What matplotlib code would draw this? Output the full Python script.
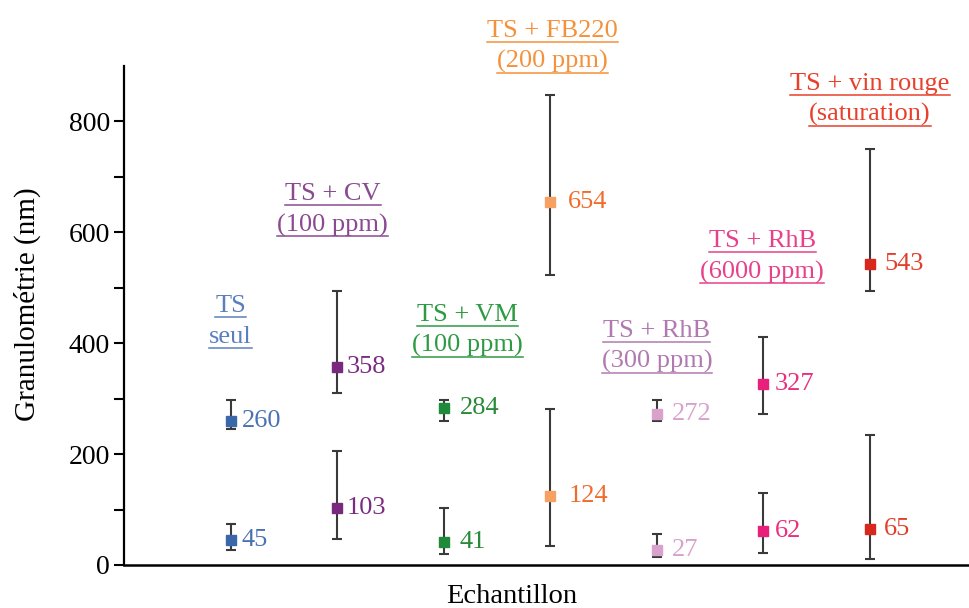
import matplotlib
matplotlib.use("Agg")
import matplotlib.pyplot as plt
import matplotlib.transforms as mtransforms
from matplotlib.lines import Line2D

plt.rcParams['font.family'] = ['Liberation Serif', 'DejaVu Serif']

# Data
samples = ["TS\nseul", "TS + CV\n(100 ppm)", "TS + VM\n(100 ppm)", "TS + FB220\n(200 ppm)",
           "TS + RhB\n(300 ppm)", "TS + RhB\n(6000 ppm)", "TS + vin rouge\n(saturation)"]
high_vals = [260, 358, 284, 654, 272, 327, 543]
high_lo = [246, 311, 259, 523, 259, 272, 494]
high_hi = [298, 494, 298, 847, 298, 412, 750]
low_vals = [45, 103, 41, 124, 27, 62, 65]
low_lo = [27, 47, 20, 34, 15, 22, 11]
low_hi = [74, 205, 102, 282, 56, 130, 235]

marker_colors = ["#3a66aa", "#7a2a7e", "#1f8a3a", "#f6a064", "#d8a2cc", "#e8207c", "#d8281e"]
value_colors = ["#4a72b2", "#7a2d80", "#2a8a3a", "#f06c2c", "#d8a2cc", "#e8307c", "#e0402a"]
title_colors = ["#5a80bc", "#8a4a90", "#2e9a44", "#f5913a", "#b07ab0", "#e8408a", "#e8402a"]
# style: label offsets (px) and title anchor positions
value_offsets_px = [11, 10, 16, 18, 15, 11, 14]
title_x = [1.0, 1.96, 3.22, 4.02, 5.0, 5.99, 7.0]
title_y = [457, 658, 440, 953, 412, 573, 857]

fig = plt.figure(figsize=(9.7, 6.08), dpi=100)
ax = fig.add_axes([124/970, 1-565/608, (968-124)/970, (565-66)/608])
xs = list(range(1, len(samples)+1))

for i, x in enumerate(xs):
    for v, lo, hi in ((high_vals[i], high_lo[i], high_hi[i]), (low_vals[i], low_lo[i], low_hi[i])):
        ax.errorbar([x], [v], yerr=[[v-lo], [hi-v]], fmt='none', ecolor='#3a3a3a',
                    elinewidth=1.5, capsize=3.5, capthick=1.5, zorder=2)
        ax.plot([x], [v], marker='s', ms=7, color=marker_colors[i], mec=marker_colors[i], zorder=3, clip_on=False)
        ax.annotate(str(v), (x, v), xytext=(value_offsets_px[i]*0.72, 0), textcoords='offset points',
                    ha='left', va='center', fontsize=19, color=value_colors[i])

ax.set_xlim(0, 7.92)
ax.set_ylim(0, 900)
ax.set_yticks([0, 200, 400, 600, 800])
ax.set_yticks([100, 300, 500, 700], minor=True)
ax.tick_params(axis='y', which='both', direction='out', length=7, width=1.5, labelsize=20, pad=3)
ax.set_xticks([])
for s in ['top', 'right']:
    ax.spines[s].set_visible(False)
ax.spines['left'].set_linewidth(1.6)
ax.spines['bottom'].set_linewidth(1.8)

fig.text(27/970, 1-304/608, "Granulométrie (nm)", rotation=90, ha='center', va='center', fontsize=21)
fig.text(512/970, 1-603/608, "Echantillon", ha='center', va='baseline', fontsize=20.5)

# group titles with underline
texts = []
for i in range(len(samples)):
    lines = samples[i].split("\n")
    for j, ln in enumerate(lines):
        t = ax.text(title_x[i], title_y[i], ln, ha='center', va='baseline', fontsize=19,
                    color=title_colors[i], clip_on=False)
        if j == 1:
            t.set_transform(ax.transData + mtransforms.ScaledTranslation(0, -31/100, fig.dpi_scale_trans))
        texts.append((t, title_colors[i]))

fig.canvas.draw()
r = fig.canvas.get_renderer()
for t, c in texts:
    bb = t.get_window_extent(renderer=r)
    x0, y0 = t.get_transform().transform(t.get_position())
    yl = y0 - 5
    fig.add_artist(Line2D([bb.x0/fig.bbox.width, bb.x1/fig.bbox.width],
                          [yl/fig.bbox.height, yl/fig.bbox.height],
                          color=c, lw=1.1, transform=fig.transFigure))

fig.savefig("out.png", dpi=100)
